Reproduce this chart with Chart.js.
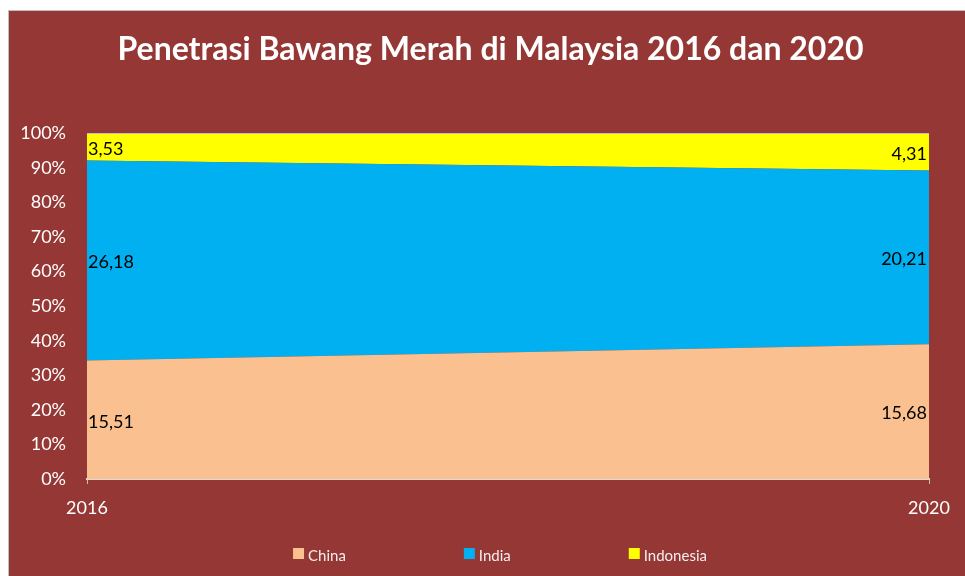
<!DOCTYPE html>
<html>
<head>
<meta charset="utf-8">
<script src="https://cdn.jsdelivr.net/npm/chart.js@4"></script>
<style>
  body { margin: 0; background: #fff; overflow: hidden; }
  #wrap { position: relative; width: 965px; height: 576px; }
</style>
</head>
<body>
<div id="wrap"><canvas id="grafik"></canvas></div>
<script>
var years = ['2016', '2020'];
var seriesNames = ['China', 'India', 'Indonesia'];
var china = [15.51, 15.68];
var india = [26.18, 20.21];
var indonesia = [3.53, 4.31];
var colors = ['#FAC090', '#00B0F0', '#FFFF00'];

var raw = [china, india, indonesia];

// share of each series per year (100% stacked)
var totals = years.map(function (y, i) {
    return china[i] + india[i] + indonesia[i];
});
function toPct(arr) {
    return arr.map(function (v, i) { return v / totals[i] * 100; });
}

var fontFam = 'Lato, "Open Sans", sans-serif';
var redBg = '#953735';

var bgPlugin = {
    id: 'bgPlugin',
    afterLayout: function (chart) {
        // title in the original sits a bit right of the canvas centre
        if (chart.titleBlock) chart.titleBlock.left += 52;
    },
    beforeDraw: function (chart) {
        var c = chart.ctx;
        c.save();
        c.fillStyle = '#ffffff';
        c.fillRect(0, 0, chart.width, chart.height);
        c.fillStyle = '#bfbfbf';
        c.fillRect(8, 10, chart.width - 8, chart.height - 10);
        c.fillStyle = redBg;
        c.fillRect(9, 11, chart.width - 9, chart.height - 11);
        c.restore();
    }
};

// value labels in the middle of each band, like the excel original
var labelPlugin = {
    id: 'labelPlugin',
    afterDatasetsDraw: function (chart) {
        var c = chart.ctx;
        var area = chart.chartArea;
        c.save();
        c.font = '18px ' + fontFam;
        c.fillStyle = '#000';
        c.textBaseline = 'middle';
        chart.data.datasets.forEach(function (ds, di) {
            var meta = chart.getDatasetMeta(di);
            var prev = di > 0 ? chart.getDatasetMeta(di - 1) : null;
            meta.data.forEach(function (pt, j) {
                var base = prev ? prev.data[j].y : area.bottom;
                var midY = (pt.y + base) / 2 + 2;
                var txt = raw[di][j].toFixed(2).replace('.', ',');
                if (j === 0) {
                    c.textAlign = 'left';
                    c.fillText(txt, pt.x + 1, midY);
                } else {
                    c.textAlign = 'right';
                    c.fillText(txt, pt.x - 2, midY);
                }
            });
        });
        c.restore();
    }
};

// wide-spaced legend along the bottom
var legendPlugin = {
    id: 'legendPlugin',
    afterDraw: function (chart) {
        var c = chart.ctx;
        var box = 11, gap = 4, spacing = 118;
        c.save();
        c.font = '15px ' + fontFam;
        var widths = chart.data.datasets.map(function (ds) {
            return box + gap + c.measureText(ds.label).width;
        });
        var total = widths.reduce(function (a, b) { return a + b; }, 0) + spacing * (widths.length - 1);
        var x = 500 - total / 2;
        var y = 554;
        c.textBaseline = 'middle';
        c.textAlign = 'left';
        chart.data.datasets.forEach(function (ds, i) {
            c.fillStyle = ds.backgroundColor;
            c.fillRect(x, y - 6, box, box);
            c.fillStyle = '#f4eeee';
            c.fillText(ds.label, x + box + gap, y + 2);
            x += widths[i] + spacing;
        });
        c.restore();
    }
};

var datasets = seriesNames.map(function (name, i) {
    return {
        label: name,
        data: toPct(raw[i]),
        backgroundColor: colors[i],
        borderWidth: 0,
        pointRadius: 0,
        fill: i === 0 ? 'origin' : '-1'
    };
});

var ctx = document.getElementById('grafik').getContext('2d');
new Chart(ctx, {
    type: 'line',
    data: { labels: years, datasets: datasets },
    plugins: [bgPlugin, labelPlugin, legendPlugin],
    options: {
        responsive: true,
        maintainAspectRatio: false,
        animation: false,
        layout: { padding: { left: 0, right: 36, top: 0, bottom: 0 } },
        plugins: {
            legend: { display: false },
            tooltip: { enabled: false },
            title: {
                display: true,
                text: 'Penetrasi Bawang Merah di Malaysia 2016 dan 2020',
                color: '#ffffff',
                font: { family: fontFam, size: 32, weight: 'bold' },
                padding: { top: 30, bottom: 65 }
            }
        },
        scales: {
            x: {
                offset: false,
                grid: { drawOnChartArea: false, tickLength: 5, color: '#bfbfbf' },
                border: { color: '#d9d9d9', width: 2 },
                ticks: { color: '#ffffff', font: { family: fontFam, size: 18 }, padding: 13, maxRotation: 0 },
                afterFit: function (scale) { scale.height = 97; }
            },
            y: {
                stacked: true,
                min: 0,
                max: 100,
                grid: {
                    drawTicks: false,
                    z: 1,
                    color: function (c) { return c.tick && c.tick.value === 100 ? '#bfbfbf' : 'rgba(0,0,0,0)'; }
                },
                border: { display: false },
                ticks: {
                    stepSize: 10,
                    color: '#ffffff',
                    font: { family: fontFam, size: 18 },
                    padding: 21,
                    callback: function (v) { return v + '%'; }
                },
                afterFit: function (scale) { scale.width = 87; }
            }
        }
    }
});
</script>
</body>
</html>
